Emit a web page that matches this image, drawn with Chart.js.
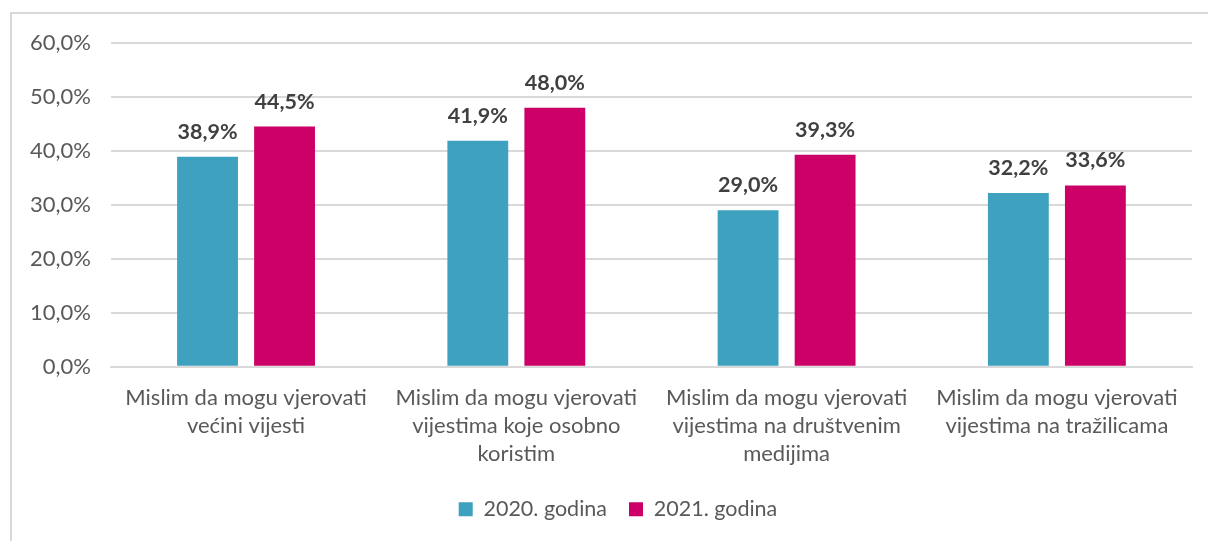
<!DOCTYPE html>
<html><head><meta charset="utf-8">
<script src="https://cdn.jsdelivr.net/npm/chart.js@4"></script>
<style>
html,body{margin:0;padding:0;background:#fff;}
#frame{position:absolute;left:10px;top:12px;width:1210px;height:540px;border:2px solid #d9d9d9;box-sizing:border-box;}
#wrap{position:absolute;left:0;top:0;width:1208px;height:541px;}
</style></head><body>
<div id="frame"></div>
<div id="wrap"><canvas id="c" width="1208" height="541"></canvas></div>
<script>
const categories = [
  ["Mislim da mogu vjerovati","većini vijesti"],
  ["Mislim da mogu vjerovati","vijestima koje osobno","koristim"],
  ["Mislim da mogu vjerovati","vijestima na društvenim","medijima"],
  ["Mislim da mogu vjerovati","vijestima na tražilicama"]
];
const series2020 = [38.9, 41.9, 29.0, 32.2];
const series2021 = [44.5, 48.0, 39.3, 33.6];
const seriesNames = ["2020. godina", "2021. godina"];
const FONT = "Lato, 'Open Sans', sans-serif";
const fmt = v => v.toFixed(1).replace('.', ',') + '%';

const labelPlugin = {
  id: 'valLabels',
  afterLayout(chart) {
    if (chart.legend) { chart.legend.left += 17; chart.legend.right += 17; }
  },
  afterDatasetsDraw(chart) {
    const ctx = chart.ctx;
    ctx.save();
    ctx.font = "bold 21.5px " + FONT;
    ctx.fillStyle = '#404040';
    ctx.textAlign = 'center';
    ctx.textBaseline = 'alphabetic';
    chart.data.datasets.forEach((ds, i) => {
      chart.getDatasetMeta(i).data.forEach((bar, j) => {
        ctx.fillText(fmt(ds.data[j]), bar.x, bar.y - 18);
      });
    });
    ctx.restore();
  }
};

new Chart(document.getElementById('c'), {
  type: 'bar',
  data: {
    labels: categories,
    datasets: [
      {label: seriesNames[0], data: series2020, backgroundColor: '#3DA1BF'},
      {label: seriesNames[1], data: series2021, backgroundColor: '#CC0066'}
    ]
  },
  options: {
    responsive: false,
    animation: false,
    devicePixelRatio: 1,
    layout: {padding: {left: 10, right: 16, top: 43, bottom: 11}},
    datasets: {bar: {categoryPercentage: 0.57, barPercentage: 0.79}},
    scales: {
      x: {
        grid: {display: false},
        border: {color: '#d9d9d9', width: 2},
        ticks: {color: '#595959', font: {family: FONT, size: 22, lineHeight: 1.27}, maxRotation: 0, autoSkip: false, padding: 9}
      },
      y: {
        min: 0, max: 60,
        ticks: {stepSize: 10, color: '#595959', font: {family: FONT, size: 22}, padding: 20, callback: v => fmt(v)},
        grid: {color: '#d9d9d9', lineWidth: 2, drawTicks: false},
        border: {display: false}
      }
    },
    plugins: {
      legend: {
        position: 'bottom',
        labels: {boxWidth: 14, boxHeight: 14, color: '#595959', font: {family: FONT, size: 21.5}, padding: 22}
      },
      tooltip: {enabled: false}
    }
  },
  plugins: [labelPlugin]
});
</script>
</body></html>
